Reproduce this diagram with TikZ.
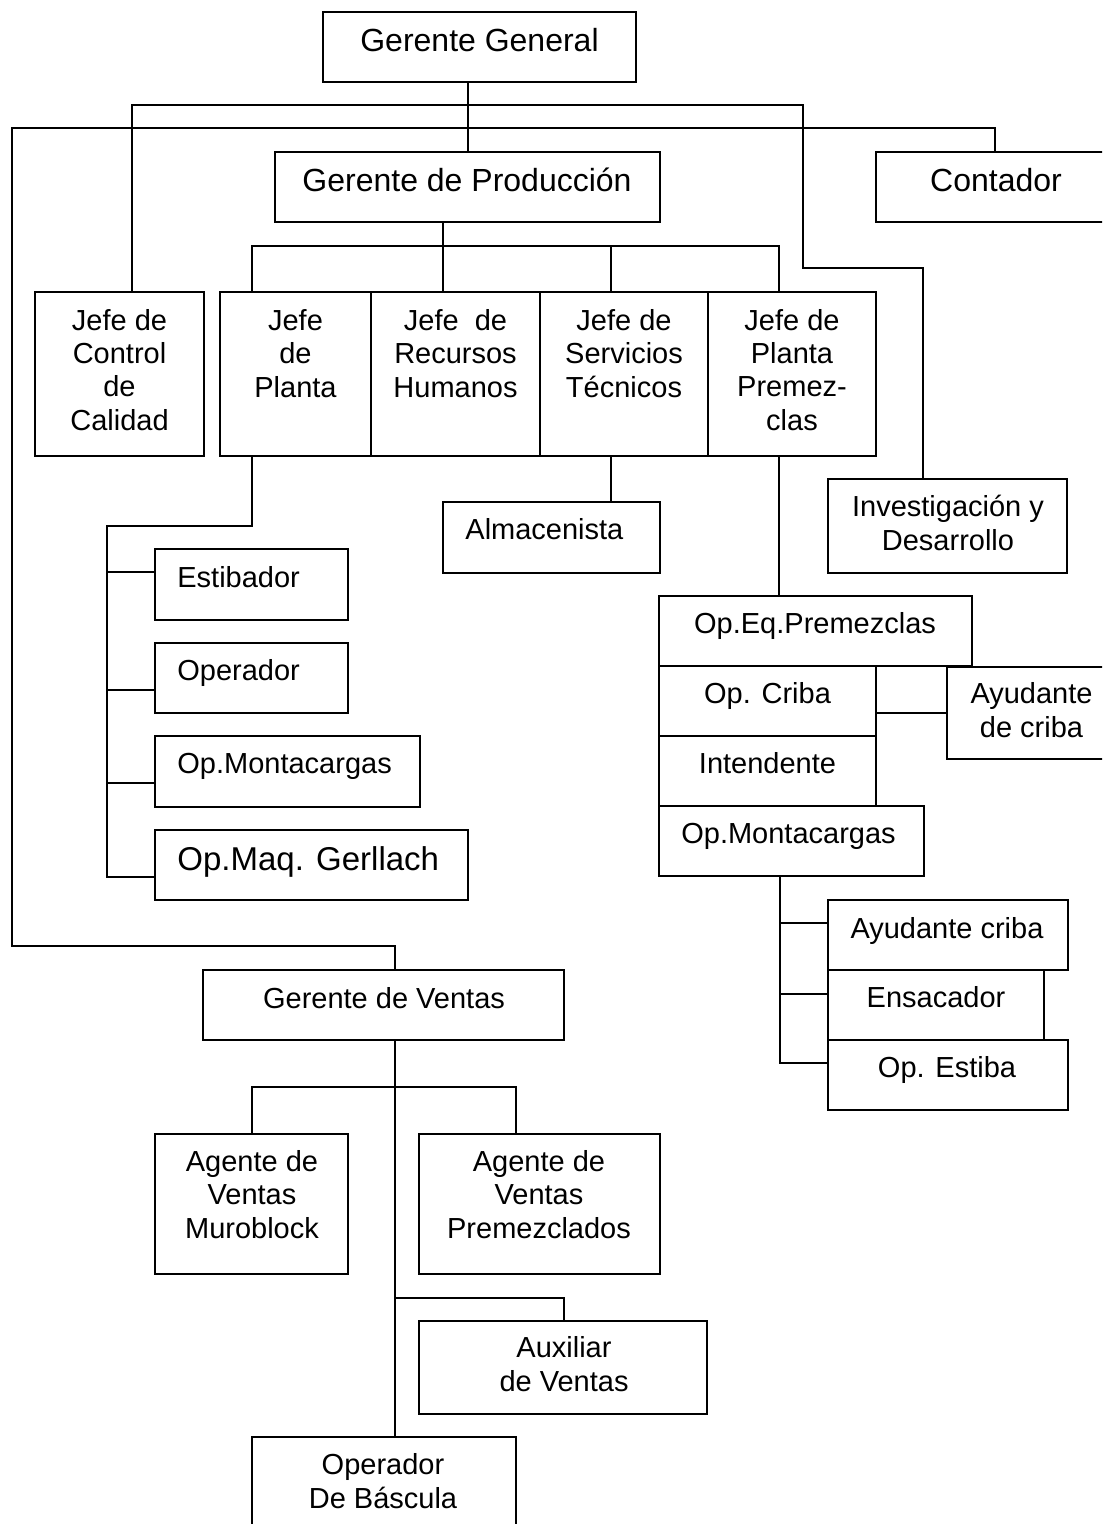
\documentclass[tikz,border=0pt]{standalone}
\usepackage{fontspec}
\setmainfont{Liberation Sans}
\usetikzlibrary{fit}
\begin{document}
\begin{tikzpicture}[x=0.5pt,y=-0.5pt,
  box/.style={draw, line width=1pt, inner sep=0pt},
  ln/.style={line width=1pt},
  t14/.style={inner sep=0pt, anchor=base, align=center, font=\fontsize{14.5}{16.6}\selectfont},
  t16/.style={inner sep=0pt, anchor=base, align=center, font=\fontsize{16}{18}\selectfont},
  tl14/.style={inner sep=0pt, anchor=base west, font=\fontsize{14.5}{16.6}\selectfont},
  tl16/.style={inner sep=0pt, anchor=base west, font=\fontsize{16.5}{19}\selectfont}]
\useasboundingbox (0,0) rectangle (1102,1524);
\fill[white] (0,0) rectangle (1102,1524);
\clip (0,0) rectangle (1102,1524);

% boxes (multi-line texts are anchored at the baseline of their last line)
\node[box, fit={(323,12)(636,82)}] (gg) {};
\node[t16] (ggt) at (479.5,52) {Gerente General};
\node[box, fit={(275,152)(660,222)}] (gp) {};
\node[t16] (gpt) at (467,192) {Gerente de Producción};
\node[box, fit={(876,152)(1116,222)}] (cont) {};
\node[t16] (contt) at (996,192) {Contador};

\node[box, fit={(35,292)(204,456)}] (jcc) {};
\node[t14] (jcct) at (119.5,430) {Jefe de\\Control\\de\\Calidad};
\node[box, fit={(220,292)(371,456)}] (jp) {};
\node[t14] (jpt) at (295.5,397) {Jefe\\de\\Planta};
\node[box, fit={(371,292)(540,456)}] (jrh) {};
\node[t14] (jrht) at (455.5,397) {Jefe\ \ de\\Recursos\\Humanos};
\node[box, fit={(540,292)(708,456)}] (jst) {};
\node[t14] (jstt) at (624,397) {Jefe de\\Servicios\\Técnicos};
\node[box, fit={(708,292)(876,456)}] (jpp) {};
\node[t14] (jppt) at (792,430) {Jefe de\\Planta\\Premez-\\clas};

\node[box, fit={(443,502)(660,573)}] (alm) {};
\node[tl14] (almt) at (465,539) {Almacenista};
\node[box, fit={(828,479)(1067,573)}] (inv) {};
\node[t14] (invt) at (948,550) {Investigación y\\Desarrollo};

\node[box, fit={(155,549)(348,620)}] (est) {};
\node[tl14] (estt) at (177,587) {Estibador};
\node[box, fit={(155,643)(348,713)}] (ope) {};
\node[tl14] (opet) at (177,680) {Operador};
\node[box, fit={(155,736)(420,807)}] (opm1) {};
\node[tl14] (opm1t) at (177,773) {Op.Montacargas};
\node[box, fit={(155,830)(468,900)}] (gerl) {};
\node[tl16] (gerlt) at (177,870) {Op.Maq. Gerllach};

\node[box, fit={(659,596)(972,666)}] (eqp) {};
\node[t14] (eqpt) at (815,633) {Op.Eq.Premezclas};
\node[box, fit={(659,666)(876,736)}] (cri) {};
\node[t14] (crit) at (767.5,703) {Op. Criba};
\node[box, fit={(659,736)(876,806)}] (int) {};
\node[t14] (intt) at (767.5,773) {Intendente};
\node[box, fit={(659,806)(924,876)}] (opm2) {};
\node[t14] (opm2t) at (788.5,843) {Op.Montacargas};
\node[box, fit={(947,667)(1116,759)}] (ayc) {};
\node[t14] (ayct) at (1031.5,737) {Ayudante\\de criba};

\node[box, fit={(828,900)(1068,970)}] (ayc2) {};
\node[t14] (ayc2t) at (947,938) {Ayudante criba};
\node[box, fit={(828,970)(1044,1040)}] (ens) {};
\node[t14] (enst) at (936,1007) {Ensacador};
\node[box, fit={(828,1040)(1068,1110)}] (ope2) {};
\node[t14] (ope2t) at (947,1077) {Op. Estiba};

\node[box, fit={(203,970)(564,1040)}] (gv) {};
\node[t14] (gvt) at (384,1008) {Gerente de Ventas};
\node[box, fit={(155,1134)(348,1274)}] (avm) {};
\node[t14] (avmt) at (252,1238) {Agente de\\Ventas\\Muroblock};
\node[box, fit={(419,1134)(660,1274)}] (avp) {};
\node[t14] (avpt) at (539,1238) {Agente de\\Ventas\\Premezclados};
\node[box, fit={(419,1321)(707,1414)}] (aux) {};
\node[t14] (auxt) at (564,1391) {Auxiliar\\de Ventas};
\node[box, fit={(252,1437)(516,1540)}] (bas) {};
\node[t14] (bast) at (383,1508) {Operador\\De Báscula};

% junctions
\coordinate (c1) at (132,105); \coordinate (c2) at (803,105);
\coordinate (c3) at (803,268); \coordinate (c4) at (923,268);
\coordinate (d1) at (12,128); \coordinate (d2) at (995,128);
\coordinate (d3) at (12,946); \coordinate (d4) at (395,946);
\coordinate (e0) at (443,246); \coordinate (e1) at (252,246);
\coordinate (e2) at (779,246); \coordinate (e3) at (611,246);
\coordinate (f0) at (107,526);
\coordinate (b1) at (107,572); \coordinate (b2) at (107,690);
\coordinate (b3) at (107,783); \coordinate (b4) at (107,877);
\coordinate (g1) at (900,713);
\coordinate (h1) at (780,923); \coordinate (h2) at (780,994); \coordinate (h3) at (780,1063);
\coordinate (k0) at (395,1087); \coordinate (k1) at (252,1087); \coordinate (k2) at (516,1087);
\coordinate (m0) at (395,1298); \coordinate (m1) at (564,1298);

% connectors
\draw[ln] (gg.south -| gp.north) -- (gp.north);
\draw[ln] (jcc.north -| c1) -- (c1) -- (c2) -- (c3) -- (c4) -- (inv.north -| c4);
\draw[ln] (cont.north -| d2) -- (d2) -- (d1) -- (d3) -- (d4) -- (gv.north -| d4);
\draw[ln] (gp.south -| e0) -- (jrh.north -| e0);
\draw[ln] (jp.north -| e1) -- (e1) -- (e2) -- (jpp.north -| e2);
\draw[ln] (e3) -- (jst.north -| e3);
\draw[ln] (jp.south -| e1) |- (f0) -- (b4) -- (gerl.west |- b4);
\draw[ln] (b1) -- (est.west |- b1);
\draw[ln] (b2) -- (ope.west |- b2);
\draw[ln] (b3) -- (opm1.west |- b3);
\draw[ln] (jst.south -| e3) -- (alm.north -| e3);
\draw[ln] (jpp.south -| e2) -- (eqp.north -| e2);
\draw[ln] (cri.east |- g1) -- (ayc.west |- g1);
\draw[ln] (opm2.south -| h1) -- (h3) -- (ope2.west |- h3);
\draw[ln] (h1) -- (ayc2.west |- h1);
\draw[ln] (h2) -- (ens.west |- h2);
\draw[ln] (gv.south -| k0) -- (bas.north -| k0);
\draw[ln] (avm.north -| k1) -- (k1) -- (k2) -- (avp.north -| k2);
\draw[ln] (m0) -- (m1) -- (aux.north -| m1);
\end{tikzpicture}
\end{document}
